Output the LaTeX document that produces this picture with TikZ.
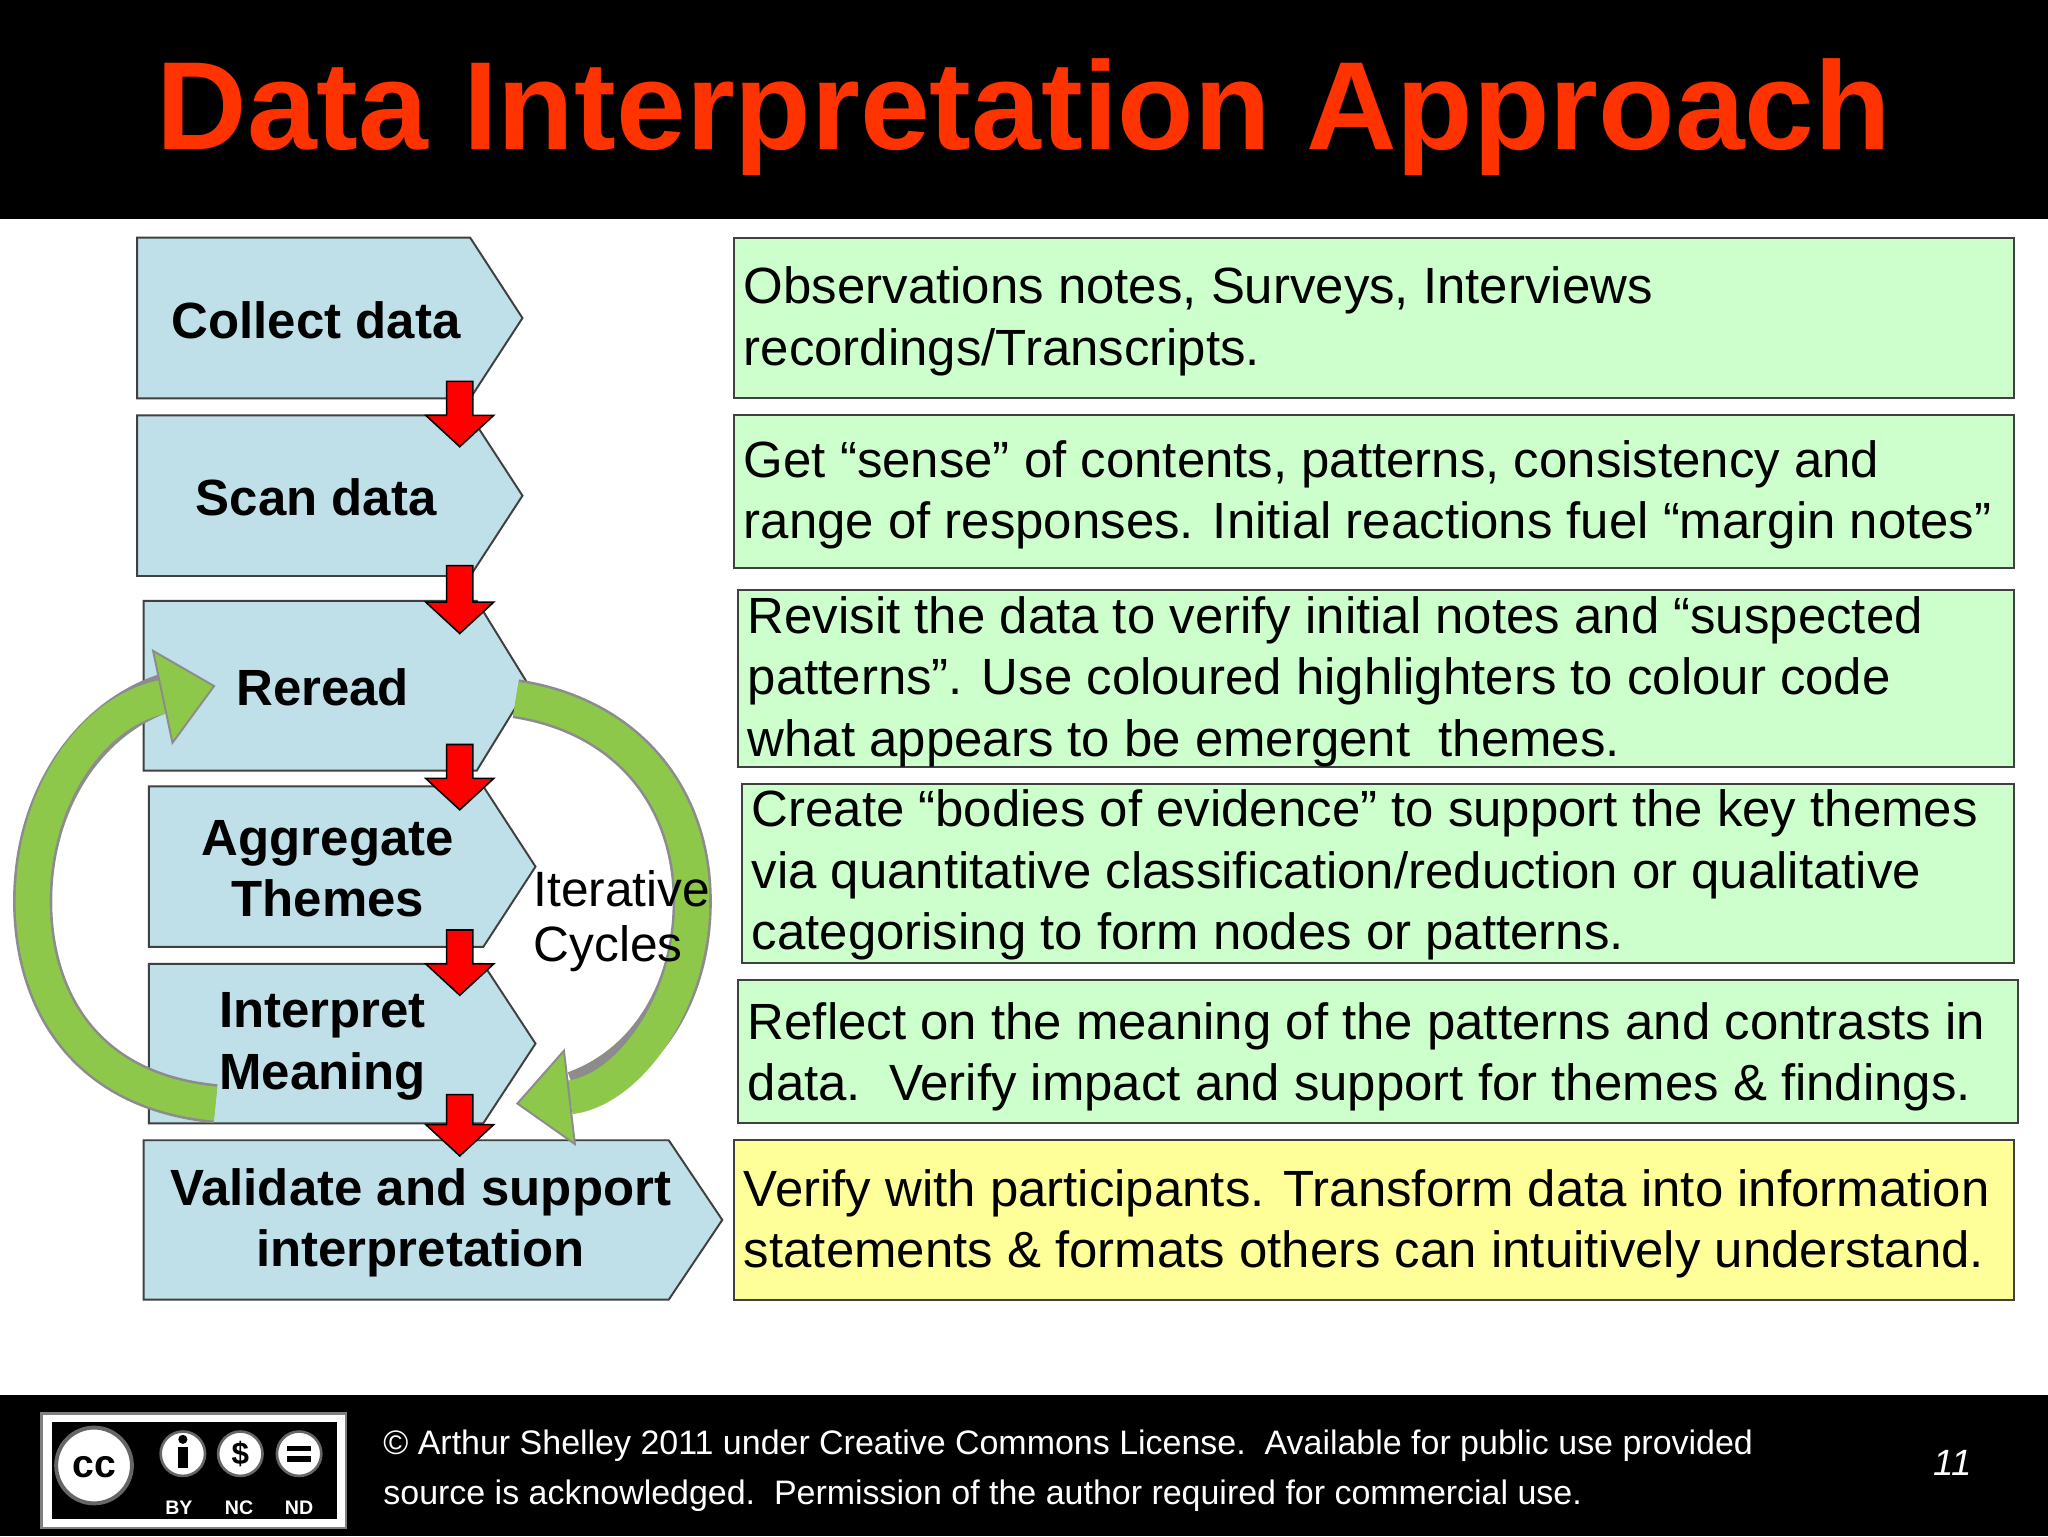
\documentclass[tikz,border=0pt]{standalone}
\usepackage{fontspec}
\setmainfont{Liberation Sans}
\usetikzlibrary{arrows.meta}
\definecolor{titlered}{HTML}{FF3300}
\definecolor{chevblue}{HTML}{BFE0E8}
\definecolor{boxgreen}{HTML}{CCFFCC}
\definecolor{boxyellow}{HTML}{FFFF99}
\definecolor{cyclegreen}{HTML}{8DC84A}
\tikzset{
 chev/.style={fill=chevblue,draw=black!75,line width=1.5pt},
 infobox/.style={fill=boxgreen,draw=black!75,line width=1.5pt},
 chevtext/.style={font=\fontsize{39}{47}\selectfont\bfseries,align=center},
 infotext/.style={font=\fontsize{39}{47}\selectfont,align=left,anchor=west},
 redarrow/.style={fill=red,draw=black,line width=1.2pt},
}
\newcommand{\mychev}[5]{\fill[chev] (#1,#2) -- (#3,#2) -- (#4,{(#2+#5)/2}) -- (#3,#5) -- (#1,#5) -- cycle;}
\newcommand{\myredarrow}[3]{\fill[redarrow] (#1-10,#2) -- (#1+10,#2) -- (#1+10,#3-24) -- (#1+26,#3-24) -- (#1,#3) -- (#1-26,#3-24) -- (#1-10,#3-24) -- cycle;}
\begin{document}
\begin{tikzpicture}[x=1pt,y=-1pt]
\useasboundingbox (0,0) rectangle (1568,1176);
\fill[white] (0,0) rectangle (1568,1176);
\fill[black] (0,0) rectangle (1568,168);
\fill[black] (0,1068) rectangle (1568,1176);
\node[text=titlered,font=\fontsize{96}{100}\selectfont\bfseries] (title) at (784,90) {Data Interpretation Approach};

% chevrons
\mychev{105}{182}{360}{400}{305}
\mychev{105}{318}{360}{400}{441}
\mychev{110}{460}{365}{405}{590}
\mychev{114}{602}{370}{410}{725}
\mychev{114}{738}{370}{410}{860}
\mychev{110}{873}{512}{553}{995}

% green cycle arrows
\draw[black!45,line width=30pt] (165,845) .. controls (60,835) and (25,760) .. (25,690) .. controls (25,610) and (70,548) .. (128,530);
\draw[cyclegreen,line width=26pt,-{Triangle[length=42pt,width=75pt,color=black!45,fill=cyclegreen,line width=1.5pt]}] (165,845) .. controls (60,835) and (25,760) .. (25,690) .. controls (25,610) and (70,545) .. (165,525);
\draw[black!45,line width=30pt] (395,535) .. controls (480,548) and (530,610) .. (530,690) .. controls (530,760) and (495,815) .. (440,835);
\draw[cyclegreen,line width=26pt,-{Triangle[length=42pt,width=75pt,color=black!45,fill=cyclegreen,line width=1.5pt]}] (395,535) .. controls (480,548) and (530,610) .. (530,690) .. controls (530,770) and (480,835) .. (395,845);

\node[chevtext] (c1) at (242,245) {Collect data};
\node[chevtext] (c2) at (242,381) {Scan data};
\node[chevtext] (c3) at (247,526) {Reread};
\node[chevtext] (c4) at (251,665) {Aggregate\\Themes};
\node[chevtext] (c5) at (247,801) {Interpret\\Meaning};
\node[chevtext] (c6) at (322,936) {Validate and support\\interpretation};
\node[font=\fontsize{38}{42}\selectfont,align=left,anchor=west] (iter) at (405,705) {Iterative\\Cycles};

% red arrows
\myredarrow{352}{292}{342}
\myredarrow{352}{433}{485}
\myredarrow{352}{570}{620}
\myredarrow{352}{712}{762}
\myredarrow{352}{838}{885}

% right boxes
\draw[infobox] (562,182) rectangle (1542,305);
\draw[infobox] (562,318) rectangle (1542,435);
\draw[infobox] (565,452) rectangle (1542,587);
\draw[infobox] (568,600) rectangle (1542,737);
\draw[infobox] (565,750) rectangle (1545,860);
\draw[infobox,fill=boxyellow] (562,873) rectangle (1542,995);
\node[infotext] (t1) at (566,246) {Observations notes, Surveys, Interviews\\recordings/Transcripts.};
\node[infotext] (t2) at (566,379) {Get “sense” of contents, patterns, consistency and\\range of responses. Initial reactions fuel “margin notes”};
\node[infotext] (t3) at (569,522) {Revisit the data to verify initial notes and “suspected\\patterns”. Use coloured highlighters to colour code\\what appears to be emergent\ \ themes.};
\node[infotext] (t4) at (572,670) {Create “bodies of evidence” to support the key themes\\via quantitative classification/reduction or qualitative\\categorising to form nodes or patterns.};
\node[infotext] (t5) at (569,809) {Reflect on the meaning of the patterns and contrasts in\\data.\ \ Verify impact and support for themes \& findings.};
\node[infotext] (t6) at (566,937) {Verify with participants. Transform data into information\\statements \& formats others can intuitively understand.};

% footer
\fill[white,draw=black!50,line width=2pt] (32,1082) rectangle (265,1170);
\fill[black] (40,1089) rectangle (258,1163);
\fill[white,draw=black!60,line width=3pt] (72,1122) circle (29);
\node[font=\fontsize{30}{30}\selectfont\bfseries] (cc) at (72,1123) {cc};
\foreach \xx in {140,184,229}{\fill[white,draw=black!60,line width=2pt] (\xx,1113) circle (17);}
\fill[black] (140,1102) circle (3.5);
\fill[black] (136,1108) rectangle (144,1124);
\node[font=\fontsize{24}{24}\selectfont\bfseries] (nc) at (184,1113) {\$};
\fill[black] (220,1107) rectangle (238,1111);
\fill[black] (220,1115) rectangle (238,1119);
\node[text=white,font=\fontsize{15}{15}\selectfont\bfseries] (byl) at (137,1154) {BY};
\node[text=white,font=\fontsize{15}{15}\selectfont\bfseries] (ncl) at (183,1154) {NC};
\node[text=white,font=\fontsize{15}{15}\selectfont\bfseries] (ndl) at (229,1154) {ND};
\node[text=white,font=\fontsize{26}{39}\selectfont,align=left,anchor=west] (foot) at (290,1126) {© Arthur Shelley 2011 under Creative Commons License.\ \ Available for public use provided\\source is acknowledged.\ \ Permission of the author required for commercial use.};
\node[text=white,font=\fontsize{28}{28}\selectfont\itshape] (pg) at (1495,1120) {11};
\end{tikzpicture}
\end{document}
